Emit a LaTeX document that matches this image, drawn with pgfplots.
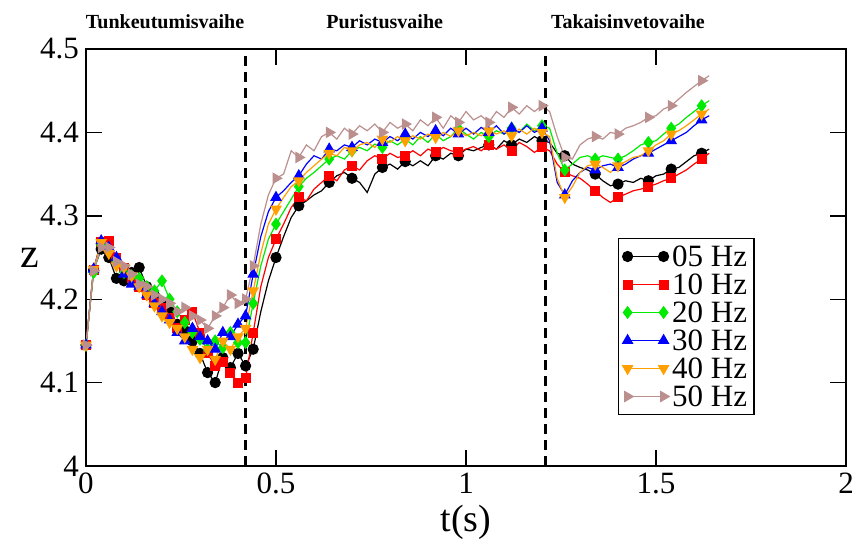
\documentclass[border=0pt]{standalone}
\usepackage{fontspec}
\setmainfont{Liberation Serif}
\usepackage{pgfplots}
\usepackage{pgfplotstable}
\pgfplotsset{compat=1.18}
\definecolor{cgreen}{RGB}{0,235,0}
\definecolor{corange}{RGB}{255,160,0}
\definecolor{cbrown}{RGB}{188,143,143}
\pgfplotstableread{
x s05 s10 s20 s30 s40 s50
0.00 4.145 4.145 4.145 4.145 4.145 4.145
0.02 4.235 4.235 4.232 4.236 4.236 4.234
0.04 4.260 4.268 4.265 4.270 4.268 4.262
0.06 4.250 4.270 4.258 4.262 4.255 4.262
0.08 4.225 4.250 4.245 4.250 4.240 4.245
0.10 4.222 4.238 4.232 4.230 4.238 4.240
0.12 4.232 4.225 4.228 4.218 4.228 4.230
0.14 4.238 4.215 4.225 4.215 4.215 4.218
0.16 4.215 4.205 4.215 4.205 4.205 4.215
0.18 4.205 4.195 4.210 4.195 4.192 4.205
0.20 4.195 4.190 4.222 4.185 4.180 4.200
0.22 4.185 4.178 4.200 4.175 4.172 4.195
0.24 4.170 4.165 4.185 4.160 4.165 4.185
0.26 4.162 4.175 4.172 4.150 4.155 4.190
0.28 4.150 4.185 4.160 4.165 4.140 4.180
0.30 4.135 4.160 4.152 4.155 4.130 4.175
0.32 4.112 4.135 4.140 4.150 4.140 4.165
0.34 4.100 4.120 4.150 4.140 4.128 4.180
0.36 4.130 4.125 4.142 4.160 4.150 4.190
0.38 4.118 4.112 4.160 4.155 4.140 4.205
0.40 4.135 4.100 4.148 4.170 4.155 4.195
0.42 4.120 4.105 4.148 4.180 4.165 4.200
0.44 4.140 4.160 4.195 4.230 4.210 4.240
0.46 4.185 4.215 4.240 4.275 4.255 4.290
0.48 4.222 4.250 4.272 4.305 4.290 4.325
0.50 4.250 4.272 4.290 4.322 4.308 4.345
0.52 4.275 4.290 4.305 4.330 4.322 4.350
0.54 4.298 4.310 4.320 4.340 4.335 4.378
0.56 4.312 4.322 4.335 4.348 4.342 4.370
0.58 4.318 4.318 4.345 4.362 4.352 4.385
0.60 4.325 4.332 4.352 4.372 4.360 4.378
0.62 4.330 4.340 4.360 4.368 4.368 4.395
0.64 4.340 4.348 4.368 4.380 4.375 4.400
0.66 4.348 4.342 4.372 4.378 4.372 4.392
0.68 4.352 4.355 4.368 4.385 4.382 4.405
0.70 4.345 4.360 4.378 4.382 4.378 4.398
0.72 4.340 4.355 4.382 4.390 4.385 4.408
0.74 4.328 4.366 4.378 4.385 4.388 4.402
0.76 4.350 4.372 4.386 4.392 4.382 4.410
0.78 4.358 4.368 4.382 4.388 4.392 4.400
0.80 4.362 4.375 4.390 4.395 4.388 4.412
0.82 4.356 4.370 4.385 4.390 4.395 4.405
0.84 4.365 4.372 4.392 4.398 4.390 4.410
0.86 4.360 4.378 4.385 4.392 4.396 4.402
0.88 4.366 4.372 4.395 4.400 4.392 4.415
0.90 4.360 4.380 4.388 4.395 4.398 4.408
0.92 4.372 4.376 4.398 4.402 4.394 4.418
0.94 4.368 4.382 4.390 4.396 4.400 4.405
0.96 4.375 4.378 4.395 4.405 4.395 4.420
0.98 4.372 4.376 4.405 4.398 4.402 4.412
1.00 4.380 4.380 4.398 4.405 4.396 4.425
1.02 4.378 4.383 4.392 4.398 4.400 4.415
1.04 4.382 4.378 4.400 4.406 4.396 4.420
1.06 4.385 4.385 4.395 4.400 4.402 4.412
1.08 4.380 4.380 4.402 4.408 4.398 4.425
1.10 4.390 4.385 4.398 4.398 4.402 4.418
1.12 4.385 4.378 4.405 4.405 4.396 4.430
1.14 4.392 4.388 4.400 4.400 4.404 4.422
1.16 4.388 4.383 4.410 4.408 4.398 4.432
1.18 4.395 4.376 4.402 4.400 4.405 4.425
1.20 4.390 4.382 4.408 4.405 4.400 4.432
1.22 4.388 4.378 4.405 4.390 4.395 4.425
1.24 4.375 4.362 4.375 4.340 4.345 4.395
1.26 4.372 4.352 4.355 4.325 4.322 4.370
1.28 4.362 4.348 4.362 4.342 4.335 4.368
1.30 4.358 4.345 4.370 4.352 4.352 4.385
1.32 4.355 4.338 4.372 4.358 4.360 4.392
1.34 4.350 4.330 4.368 4.355 4.362 4.395
1.36 4.342 4.322 4.372 4.360 4.358 4.392
1.38 4.336 4.316 4.370 4.362 4.352 4.400
1.40 4.338 4.322 4.368 4.358 4.360 4.398
1.42 4.342 4.326 4.372 4.362 4.365 4.405
1.44 4.340 4.330 4.378 4.368 4.370 4.408
1.46 4.345 4.332 4.385 4.372 4.372 4.412
1.48 4.342 4.335 4.388 4.375 4.378 4.418
1.50 4.348 4.338 4.390 4.380 4.385 4.420
1.52 4.350 4.342 4.398 4.385 4.390 4.428
1.54 4.356 4.345 4.405 4.390 4.398 4.432
1.56 4.358 4.350 4.410 4.395 4.402 4.440
1.58 4.365 4.355 4.418 4.400 4.408 4.448
1.60 4.372 4.362 4.425 4.408 4.415 4.455
1.62 4.375 4.368 4.432 4.415 4.422 4.462
1.64 4.380 4.375 4.438 4.420 4.428 4.468
}\data
\begin{document}
\begin{tikzpicture}
\begin{axis}[
  scale only axis,
  width=380pt, height=208.5pt,
  xmin=0, xmax=2, ymin=4, ymax=4.5,
  xtick={0,0.5,1,1.5,2},
  ytick={4,4.1,4.2,4.3,4.4,4.5},
  tick align=inside,
  major tick length=8pt,
  axis line style={line width=0.8pt},
  every tick/.style={black, line width=0.7pt},
  /pgf/number format/assume math mode=true,
  tick label style={font=\fontsize{15.5}{16}\selectfont},
  xlabel={t(s)}, ylabel={z},
  xlabel style={font=\fontsize{19}{20}\selectfont, at={(axis description cs:0.5,-0.135)}, anchor=center},
  ylabel style={font=\fontsize{21}{22}\selectfont, at={(axis description cs:-0.074,0.5)}, anchor=center, rotate=-90},
  clip=false,
  every axis plot/.append style={line width=0.6pt, mark size=2.5pt,
    mark indices={1,2,3,4,5,6,7,8,9,10,11,12,13,14,15,16,17,18,19,20,21,22,23,26,29,33,36,40,43,47,50,54,57,61,64,68,71,75,78,82}},
  legend style={at={(axis description cs:0.70,0.547)}, anchor=north west,
    font=\fontsize{15.5}{16}\selectfont, draw=black, line width=0.6pt,
    row sep=0pt, inner sep=2pt, nodes={inner sep=1.5pt, text height=10.5pt, text depth=0.5pt}},
  legend cell align=left,
  legend image code/.code={\draw[#1, mark indices={}] plot coordinates {(0pt,0pt) (18pt,0pt)};},
]
\addplot[black, mark=*] table[x=x, y=s05] {\data};
\addlegendentry{05 Hz}
\addplot[red, mark=square*, mark size=2.2pt] table[x=x, y=s10] {\data};
\addlegendentry{10 Hz}
\addplot[cgreen, mark=diamond*, mark size=2.8pt] table[x=x, y=s20] {\data};
\addlegendentry{20 Hz}
\addplot[blue, mark=triangle*, mark size=2.8pt] table[x=x, y=s30] {\data};
\addlegendentry{30 Hz}
\addplot[corange, mark=triangle*, mark size=2.8pt, mark options={rotate=180}] table[x=x, y=s40] {\data};
\addlegendentry{40 Hz}
\addplot[cbrown, mark=triangle*, mark size=2.8pt, mark options={rotate=-90}] table[x=x, y=s50] {\data};
\addlegendentry{50 Hz}
\addplot[forget plot, black, line width=1.5pt, dash pattern=on 5pt off 3pt, mark=none] coordinates {(0.421,4) (0.421,4.5)};
\addplot[forget plot, black, line width=1.5pt, dash pattern=on 5pt off 3pt, mark=none] coordinates {(1.208,4) (1.208,4.5)};
\node[font=\bfseries\fontsize{10}{11}\selectfont] at (axis description cs:0.104,1.065) {Tunkeutumisvaihe};
\node[font=\bfseries\fontsize{10}{11}\selectfont] at (axis description cs:0.393,1.065) {Puristusvaihe};
\node[font=\bfseries\fontsize{10}{11}\selectfont] at (axis description cs:0.713,1.065) {Takaisinvetovaihe};
\end{axis}
\pgfresetboundingbox
\path[use as bounding box] ([xshift=-43pt,yshift=-37.5pt]current axis.south west) rectangle ([xshift=3pt,yshift=24.5pt]current axis.north east);
\end{tikzpicture}
\end{document}
